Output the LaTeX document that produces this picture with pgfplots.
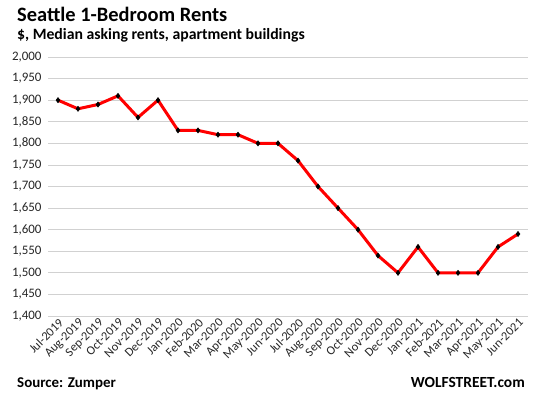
\documentclass[border=0pt]{standalone}
\usepackage{pgfplots}
\pgfplotsset{compat=1.18}
\usepackage{fontspec}
\setmainfont{Carlito}
\begin{document}
\begin{tikzpicture}[x=1bp,y=1bp]
\useasboundingbox (0,0) rectangle (534,398);
\node[anchor=base west,inner sep=0pt,font=\bfseries\fontsize{20.5}{22}\selectfont] at (17,377) {Seattle 1-Bedroom Rents};
\node[anchor=base west,inner sep=0pt,font=\bfseries\fontsize{15.8}{18}\selectfont] at (17,359) {\$, Median asking rents, apartment buildings};
\node[anchor=base west,inner sep=0pt,font=\bfseries\fontsize{15}{16}\selectfont] at (17,11) {Source: Zumper};
\node[anchor=base east,inner sep=0pt,font=\bfseries\fontsize{15.5}{16}\selectfont] at (525,11) {WOLFSTREET.com};
\begin{axis}[
  at={(48bp,82bp)}, anchor=south west,
  scale only axis, width=480bp, height=259bp,
  xmin=-0.5, xmax=23.5, ymin=1400, ymax=2000,
  ytick={1400,1450,...,2000},
  ymajorgrids, grid style={draw=black!18, line width=0.8pt},
  axis line style={draw=none},
  major tick length=0pt,
  xtick={0,...,23},
  xticklabels={Jul-2019,Aug-2019,Sep-2019,Oct-2019,Nov-2019,Dec-2019,Jan-2020,Feb-2020,Mar-2020,Apr-2020,May-2020,Jun-2020,Jul-2020,Aug-2020,Sep-2020,Oct-2020,Nov-2020,Dec-2020,Jan-2021,Feb-2021,Mar-2021,Apr-2021,May-2021,Jun-2021},
  x tick label style={rotate=45, anchor=north east, inner sep=1pt, font=\fontsize{12.5}{13}\selectfont, text=black!85},
  y tick label style={font=\fontsize{13}{14}\selectfont, text=black!85},
  yticklabel style={/pgf/number format/.cd, 1000 sep={,}, fixed},
  /pgf/number format/assume math mode=true,
  scaled y ticks=false,
  yticklabel shift=3pt,
]
\addplot[red, line width=3bp, mark=diamond*, mark size=2.6bp, mark options={black, fill=black, line width=0.5pt}] coordinates {
(0,1900) (1,1880) (2,1890) (3,1910) (4,1860) (5,1900)
(6,1830) (7,1830) (8,1820) (9,1820) (10,1800) (11,1800)
(12,1760) (13,1700) (14,1650) (15,1600) (16,1540) (17,1500)
(18,1560) (19,1500) (20,1500) (21,1500) (22,1560) (23,1590)
};
\end{axis}
\end{tikzpicture}
\end{document}
